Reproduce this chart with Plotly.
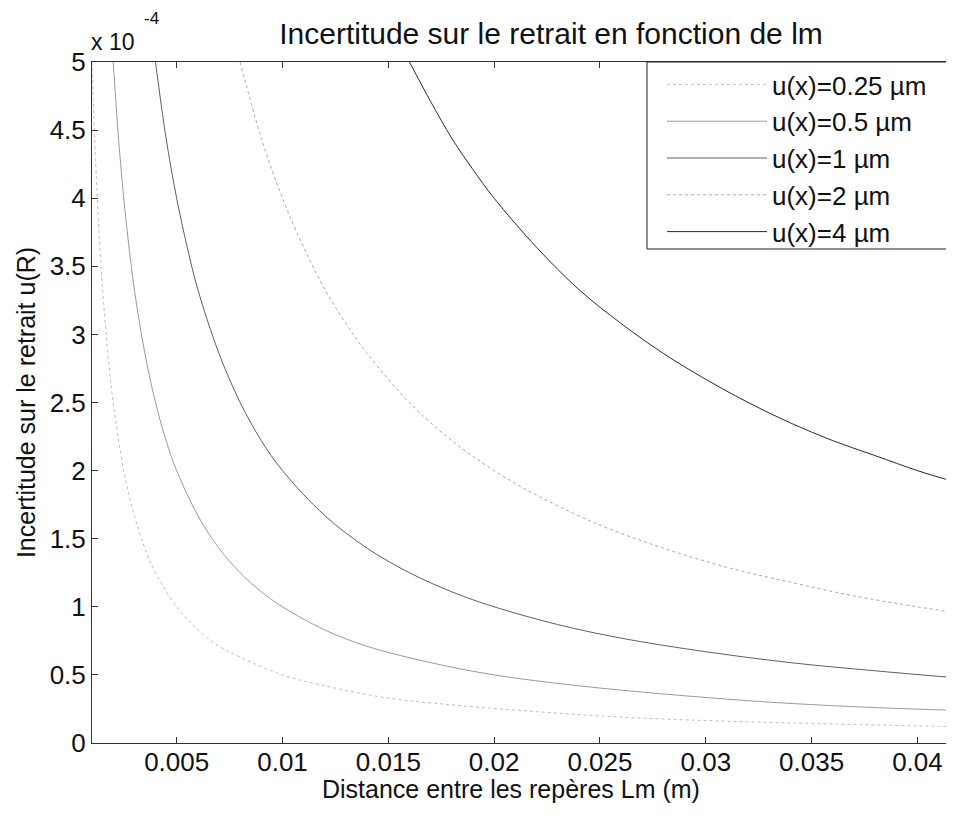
import plotly.graph_objects as go

# Distance entre les repères Lm (m) and u(R) (in units of 1e-4)
lm_025 = [0.001, 0.0012, 0.0014, 0.0016, 0.0018, 0.002, 0.0025, 0.003, 0.0035, 0.004, 0.005, 0.006,
          0.007, 0.008, 0.010, 0.012, 0.015, 0.018, 0.022, 0.026, 0.031, 0.036, 0.0417]
ur_025 = [5.00, 4.17, 3.57, 3.13, 2.78, 2.50, 2.00, 1.67, 1.43, 1.25, 1.00, 0.83,
          0.71, 0.63, 0.50, 0.42, 0.33, 0.28, 0.23, 0.19, 0.16, 0.14, 0.12]

lm_05 = [0.002, 0.0023, 0.0026, 0.003, 0.0035, 0.004, 0.0045, 0.005, 0.006, 0.007, 0.008, 0.009,
         0.010, 0.012, 0.014, 0.017, 0.020, 0.024, 0.028, 0.033, 0.038, 0.0417]
ur_05 = [5.00, 4.35, 3.85, 3.33, 2.86, 2.50, 2.22, 2.00, 1.67, 1.43, 1.25, 1.11,
         1.00, 0.83, 0.71, 0.59, 0.50, 0.42, 0.36, 0.30, 0.26, 0.24]

lm_1 = [0.004, 0.0045, 0.005, 0.0055, 0.006, 0.007, 0.008, 0.009, 0.010, 0.012, 0.014, 0.016,
        0.018, 0.020, 0.023, 0.026, 0.030, 0.034, 0.038, 0.0417]
ur_1 = [5.00, 4.44, 4.00, 3.64, 3.33, 2.86, 2.50, 2.22, 2.00, 1.67, 1.43, 1.25,
        1.11, 1.00, 0.87, 0.77, 0.67, 0.59, 0.53, 0.48]

lm_2 = [0.008, 0.009, 0.010, 0.011, 0.012, 0.013, 0.014, 0.016, 0.018, 0.020, 0.022, 0.025,
        0.028, 0.031, 0.034, 0.037, 0.040, 0.0417]
ur_2 = [5.00, 4.44, 4.00, 3.64, 3.33, 3.08, 2.86, 2.50, 2.22, 2.00, 1.82, 1.60,
        1.43, 1.29, 1.18, 1.08, 1.00, 0.96]

lm_4 = [0.016, 0.017, 0.018, 0.019, 0.020, 0.022, 0.024, 0.026, 0.028, 0.030, 0.032, 0.034,
        0.036, 0.038, 0.040, 0.0417]
ur_4 = [5.00, 4.71, 4.44, 4.21, 4.00, 3.64, 3.33, 3.08, 2.86, 2.67, 2.50, 2.35,
        2.22, 2.11, 2.00, 1.92]

series_names = ["u(x)=0.25 µm", "u(x)=0.5 µm", "u(x)=1 µm", "u(x)=2 µm", "u(x)=4 µm"]

x_tickvals = [0.005, 0.01, 0.015, 0.02, 0.025, 0.03, 0.035, 0.04]
x_ticktext = ["0.005", "0.01", "0.015", "0.02", "0.025", "0.03", "0.035", "0.04"]
y_tickvals = [0, 0.5, 1, 1.5, 2, 2.5, 3, 3.5, 4, 4.5, 5]
y_ticktext = ["0", "0.5", "1", "1.5", "2", "2.5", "3", "3.5", "4", "4.5", "5"]

styles = [
    dict(color="#bdbdbd", width=1, dash="dot"),
    dict(color="#9a9a9a", width=1, dash="solid"),
    dict(color="#5f5f5f", width=1, dash="solid"),
    dict(color="#a8a8a8", width=1, dash="dot"),
    dict(color="#2a2a2a", width=1, dash="solid"),
]

FONT = "Liberation Sans, Arial, sans-serif"

# page has an 8px body margin: figure is offset by 8px
W, H = 946, 809
ML, MR, MT, MB = 84, 1, 54, 74
PW, PH = W - ML - MR, H - MT - MB

fig = go.Figure()
for i, (xs, ys) in enumerate([(lm_025, ur_025), (lm_05, ur_05), (lm_1, ur_1), (lm_2, ur_2), (lm_4, ur_4)]):
    fig.add_trace(go.Scatter(x=xs, y=ys, mode="lines", name=series_names[i],
                             line=dict(shape="spline", **styles[i]),
                             legendgroup="g%d" % i))

# legend box (drawn as a shape so the samples can sit inset like the original)
fig.add_shape(type="rect", xref="paper", yref="paper",
              x0=(647 - 92) / PW, x1=1.1, y0=1 - (249 - 62) / PH, y1=1,
              line=dict(color="#222", width=1), fillcolor="white", layer="above")

fig.update_layout(
    width=W, height=H,
    margin=dict(l=ML, r=MR, t=MT, b=MB),
    paper_bgcolor="white", plot_bgcolor="white",
    font=dict(family=FONT, size=26, color="#111"),
    title=dict(text="Incertitude sur le retrait en fonction de lm", x=(551 - 8) / W,
               xanchor="center", y=1 - (33 - 8) / H, yanchor="middle",
               font=dict(size=30, family=FONT)),
    showlegend=True,
    legend=dict(x=(662 - 92) / PW, y=1 + 1 / PH, xanchor="left", yanchor="top",
                bgcolor="rgba(0,0,0,0)", borderwidth=0,
                font=dict(size=26, family=FONT), traceorder="grouped", tracegroupgap=0,
                itemwidth=100),
    xaxis=dict(range=[0.001, 0.04168], tickvals=x_tickvals, ticktext=x_ticktext,
               ticks="inside", ticklen=6, tickcolor="#333", showline=True, linecolor="#333",
               linewidth=1, mirror="ticks", showgrid=False, zeroline=False,
               ticklabelstandoff=-4),
    yaxis=dict(range=[0, 5], tickvals=y_tickvals, ticktext=y_ticktext,
               ticks="inside", ticklen=6, tickcolor="#333", showline=True, linecolor="#333",
               linewidth=1, mirror="ticks", showgrid=False, zeroline=False,
               ticklabelstandoff=0,
               title=dict(text="Incertitude sur le retrait u(R)", standoff=6,
                          font=dict(size=25, family=FONT))),
)

# x-axis title as an annotation (placed like the original)
fig.add_annotation(text="Distance entre les repères Lm (m)", xref="paper", yref="paper",
                   x=(511 - 92) / PW, y=0, xanchor="center", yanchor="middle", yshift=-46,
                   showarrow=False, font=dict(size=25, family=FONT, color="#111"))

fig.add_annotation(text="x 10", xref="paper", yref="paper",
                   x=0, y=1, xanchor="left", yanchor="middle", yshift=20, xshift=-3,
                   showarrow=False, font=dict(size=23, family=FONT, color="#111"))
fig.add_annotation(text="-4", xref="paper", yref="paper",
                   x=0, y=1, xanchor="left", yanchor="middle", yshift=44, xshift=50,
                   showarrow=False, font=dict(size=17, family=FONT, color="#111"))

fig.write_html("out.html")
